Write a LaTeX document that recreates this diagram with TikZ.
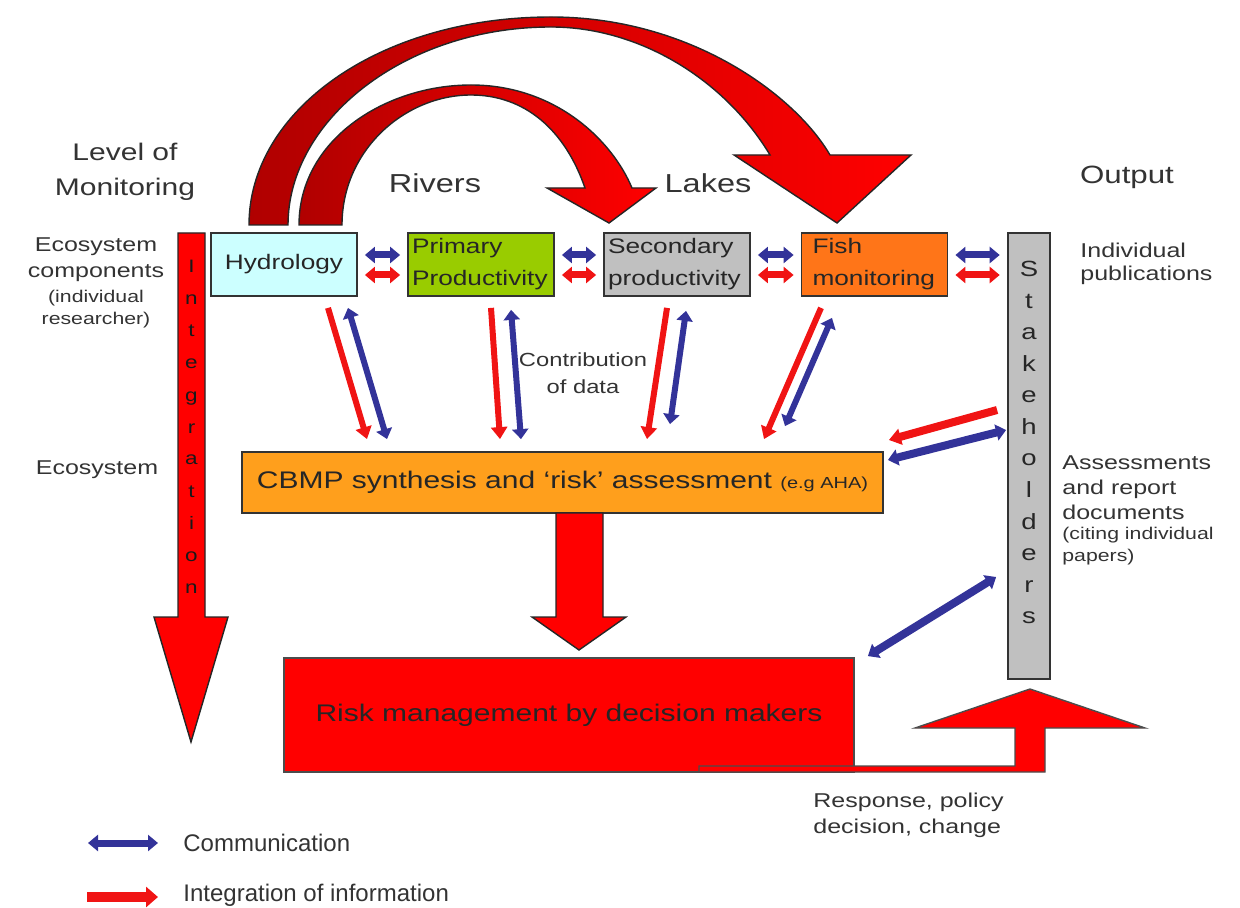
\documentclass[tikz,border=0pt]{standalone}
\usepackage{fontspec}
\setmainfont{Liberation Sans}[FakeStretch=1.25]
\newfontfamily\legendfont{Liberation Sans}
\usetikzlibrary{arrows.meta, calc}
\definecolor{hydcyan}{HTML}{CCFFFF}
\definecolor{primgreen}{HTML}{99CC00}
\definecolor{secgray}{HTML}{C0C0C0}
\definecolor{fishorange}{HTML}{FF7518}
\definecolor{cbmporange}{HTML}{FF9F1C}
\definecolor{riskred}{HTML}{FF0000}
\definecolor{commblue}{HTML}{333399}
\definecolor{integred}{HTML}{F01414}
\definecolor{archdark}{HTML}{B00000}
\definecolor{labelgray}{HTML}{333333}
\newcommand{\fsz}[2]{\fontsize{#1}{#2}\selectfont}

\begin{document}
\begin{tikzpicture}[
    x=0.5pt, y=-0.5pt,
    box/.style={draw=black!80, line width=0.9pt,
                minimum width=73pt, minimum height=31.5pt,
                inner sep=2pt, text=black!85, font=\fsz{10.5}{16}},
    note/.style={text=labelgray, inner sep=0pt, align=center},
    comm/.style={draw=commblue, line width=3pt,
                 {Triangle[width=8pt,length=5pt]}-{Triangle[width=8pt,length=5pt]}},
    integ/.style={draw=integred, line width=3pt, -{Triangle[width=8pt,length=6pt]}},
    integboth/.style={draw=integred, line width=3pt,
                 {Triangle[width=8pt,length=5pt]}-{Triangle[width=8pt,length=5pt]}},
    bigshape/.style={draw=black!85, line width=0.7pt}
  ]
  \useasboundingbox (0,0) rectangle (1240,908);

  % headings
  \node[note, font=\fsz{12}{17.5}] (level) at (125,172) {Level of\\Monitoring};
  \node[note, font=\fsz{13}{15}] (rivers) at (435,183) {Rivers};
  \node[note, font=\fsz{13}{15}] (lakes) at (708,183) {Lakes};
  \node[note, font=\fsz{12.5}{15}] (output) at (1127,177) {Output};

  % monitoring components
  \node[box, fill=hydcyan] (hyd) at (284,264.5) {Hydrology};
  \node[box, fill=primgreen, align=left, text width=69pt] (prim) at (481,264.5) {Primary\\Productivity};
  \node[box, fill=secgray, align=left, text width=69pt] (sec) at (677,264.5) {Secondary\\productivity};
  \node[box, fill=fishorange, align=left, text width=62pt] (fish) at (874.5,264.5) {Fish\\monitoring};
  \node[box, fill=secgray, minimum width=21pt, minimum height=223pt] (stake) at (1029,456) {};
  \foreach \ch [count=\i from 0] in {S,t,a,k,e,h,o,l,d,e,r,s}
    \node[font=\fsz{11}{12}, text=black!85, anchor=base, inner sep=0pt] (sl\i) at (1029,{277+31.5*\i}) {\ch};
  \node[inner sep=0pt, minimum size=0pt] (stkrow) at (stake.west |- hyd.east) {};

  \node[box, fill=cbmporange, minimum width=320.5pt, minimum height=30.5pt, font=\fsz{12}{14}] (cbmp) at (562.5,482.5)
    {CBMP synthesis and `risk' assessment {\fsz{8}{9}(e.g AHA)}};
  \node[box, fill=riskred, draw=black!70, minimum width=285pt, minimum height=57pt, font=\fsz{12}{14}] (risk) at (569,715)
    {Risk management by decision makers};

  % side texts
  \node[note, font=\fsz{10}{13}] (ecocomp) at (96,260) {Ecosystem\\components};
  \node[note, font=\fsz{8.5}{11}] (research) at (96,309) {(individual\\researcher)};
  \node[note, font=\fsz{10}{13}] (eco) at (97,470) {Ecosystem};
  \node[note, font=\fsz{10}{11.5}, align=left, anchor=west] (indiv) at (1080,263.5) {Individual\\publications};
  \node[note, font=\fsz{10}{12.5}, align=left, anchor=west] (assess) at (1062,488) {Assessments\\and report\\documents};
  \node[note, font=\fsz{8.5}{11}, align=left, anchor=west] (citing) at (1062,546) {(citing individual\\papers)};
  \node[note, font=\fsz{9.5}{13.5}] (contrib) at (583,373.5) {Contribution\\of data};
  \node[note, font=\fsz{10}{13}, align=left, anchor=west] (response) at (813,815) {Response, policy\\decision, change};

  % arrows between components
  \foreach \a/\b in {hyd/prim, prim/sec, sec/fish, fish/stkrow} {
    \draw[comm, line width=3.5pt] ($(\a.east)+(7,-9.5)$) -- ($(\b.west)+(-7,-9.5)$);
    \draw[integboth, line width=3.5pt] ($(\a.east)+(7,10.5)$) -- ($(\b.west)+(-7,10.5)$);
  }

  % contribution of data
  \draw[integ] ($(hyd.south)+(44,11)$) -- ($(cbmp.north)+(-195.5,-12)$);
  \draw[comm] ($(hyd.south)+(64,11)$) -- ($(cbmp.north)+(-175.5,-12)$);
  \draw[integ] ($(prim.south)+(10,11)$) -- ($(cbmp.north)+(-62.5,-12)$);
  \draw[comm] ($(prim.south)+(30,13)$) -- ($(cbmp.north)+(-41.5,-12)$);
  \draw[integ] ($(sec.south)+(-10,11)$) -- ($(cbmp.north)+(84.5,-12)$);
  \draw[comm] ($(sec.south)+(9,14)$) -- ($(cbmp.north)+(107.5,-27)$);
  \draw[integ] ($(fish.south)+(-53.5,11)$) -- ($(cbmp.north)+(201.5,-12)$);
  \draw[comm] ($(fish.south)+(-42.5,21)$) -- ($(cbmp.north)+(222.5,-25)$);

  % stakeholders
  \draw[integ, line width=4pt] ($(stake.west)+(-10,-46)$) -- ($(cbmp.east)+(5,-42.5)$);
  \draw[comm, line width=4pt] ($(stake.west)+(-1,-26)$) -- ($(cbmp.east)+(4,-22.5)$);
  \draw[comm, line width=4pt] ($(stake.west)+(-11,121)$) -- ($(risk.north east)+(13,-1)$);

  % big arches
  \shadedraw[bigshape, left color=archdark, right color=riskred]
    (249,225) .. controls (249,110) and (380,17) .. (551,17)
    .. controls (690,17) and (795,95) .. (830,155)
    -- (911,155) -- (837,223) -- (734,155) -- (770,155)
    .. controls (725,80) and (640,27) .. (551,27)
    .. controls (405,27) and (288,120) .. (288,225) -- cycle;
  \shadedraw[bigshape, left color=archdark, right color=riskred]
    (299,225) .. controls (299,140) and (385,85) .. (471,85)
    .. controls (555,85) and (612,140) .. (632,188)
    -- (656,188) -- (609,223) -- (547,188) -- (585,188)
    .. controls (565,130) and (525,95) .. (471,95)
    .. controls (405,95) and (342,150) .. (342,225) -- cycle;

  % integration arrow
  \filldraw[bigshape, fill=riskred]
    (178,233) -- (205,233) -- (205,617) -- (228,617) -- (191,742) -- (154,617) -- (178,617) -- cycle;
  \foreach \ch [count=\i from 0] in {I,n,t,e,g,r,a,t,i,o,n}
    \node[font=\fsz{9}{10}, text=black!90, anchor=base, inner sep=0pt] (il\i) at (191.5,{273+32*\i}) {\ch};

  % synthesis to management
  \filldraw[bigshape, fill=riskred]
    (556,513) -- (603,513) -- (603,617) -- (626,617) -- (579,650) -- (532,617) -- (556,617) -- cycle;

  % response back to stakeholders
  \filldraw[bigshape, fill=riskred, draw=black!70]
    (699,772) -- (699,766) -- (1015,766) -- (1015,728) -- (915,728) -- (1030,689)
    -- (1145,728) -- (1045,728) -- (1045,772) -- cycle;

  % legend
  \node[note, anchor=west, font=\legendfont\fsz{12}{14}] (legcomm) at (183,843) {Communication};
  \node[note, anchor=west, font=\legendfont\fsz{12}{14}] (leginteg) at (183,895) {Integration of information};
  \draw[comm, line width=3.5pt] ($(legcomm.west)+(-95,0)$) -- ($(legcomm.west)+(-25,0)$);
  \draw[integ, line width=5pt, -{Triangle[width=10pt,length=6pt]}] ($(leginteg.west)+(-96,2)$) -- ($(leginteg.west)+(-25,2)$);
\end{tikzpicture}
\end{document}
